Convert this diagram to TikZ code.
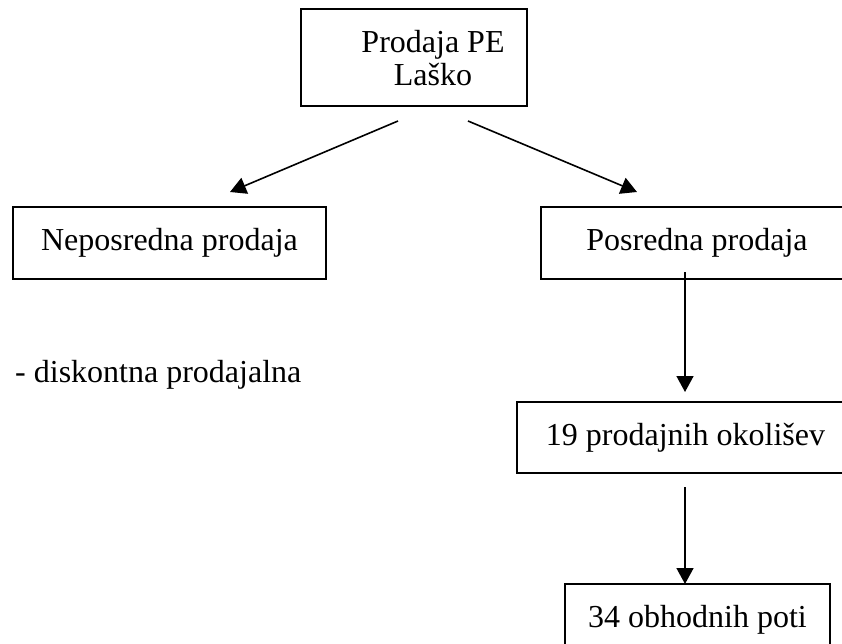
\documentclass[tikz,border=0pt]{standalone}
\usepackage{fontspec}
\setmainfont{Liberation Serif}
\usetikzlibrary{arrows.meta}
\begin{document}
\begin{tikzpicture}[x=1pt,y=-1pt,
  box/.style={draw,line width=1.7pt,inner sep=0pt,
    font=\fontsize{32}{33}\selectfont,align=center},
  link/.style={line width=1.6pt,-{Triangle[length=16pt,width=17pt]}},
  label/.style={font=\fontsize{32}{33}\selectfont,inner sep=0pt,align=center}]
\useasboundingbox (0,0) rectangle (842,644);
\clip (0,0) rectangle (842,644);

% boxes
\node[box,minimum width=226pt,minimum height=97pt] (root) at (414,57.5) {};
\node[label] (roottext) at (433,58) {Prodaja PE\\Laško};
\node[box,minimum width=313pt,minimum height=72pt] (direct) at (169.5,243) {Neposredna prodaja};
\node[box,minimum width=312pt,minimum height=72pt] (indirect) at (697,243) {Posredna prodaja};
\node[box,minimum width=337pt,minimum height=71pt] (areas) at (685.5,437.5) {19 prodajnih okolišev};
\node[box,minimum width=265pt,minimum height=72pt] (routes) at (697.5,620) {34 obhodnih poti};

% list item under direct sales
\node[label,anchor=base west] (shop) at (15,382) {- diskontna prodajalna};

% connector end points
\coordinate (l1s) at (398,121);
\coordinate (l1e) at (230,192);
\coordinate (r1s) at (468,121);
\coordinate (r1e) at (637,192);
\coordinate (v1s) at (685,272);
\coordinate (v1e) at (685,392);
\coordinate (v2s) at (685,487);
\coordinate (v2e) at (685,584);

\draw[link] (l1s) -- (l1e);
\draw[link] (r1s) -- (r1e);
\draw[link] (v1s) -- (v1e);
\draw[link] (v2s) -- (v2e);
\end{tikzpicture}
\end{document}
